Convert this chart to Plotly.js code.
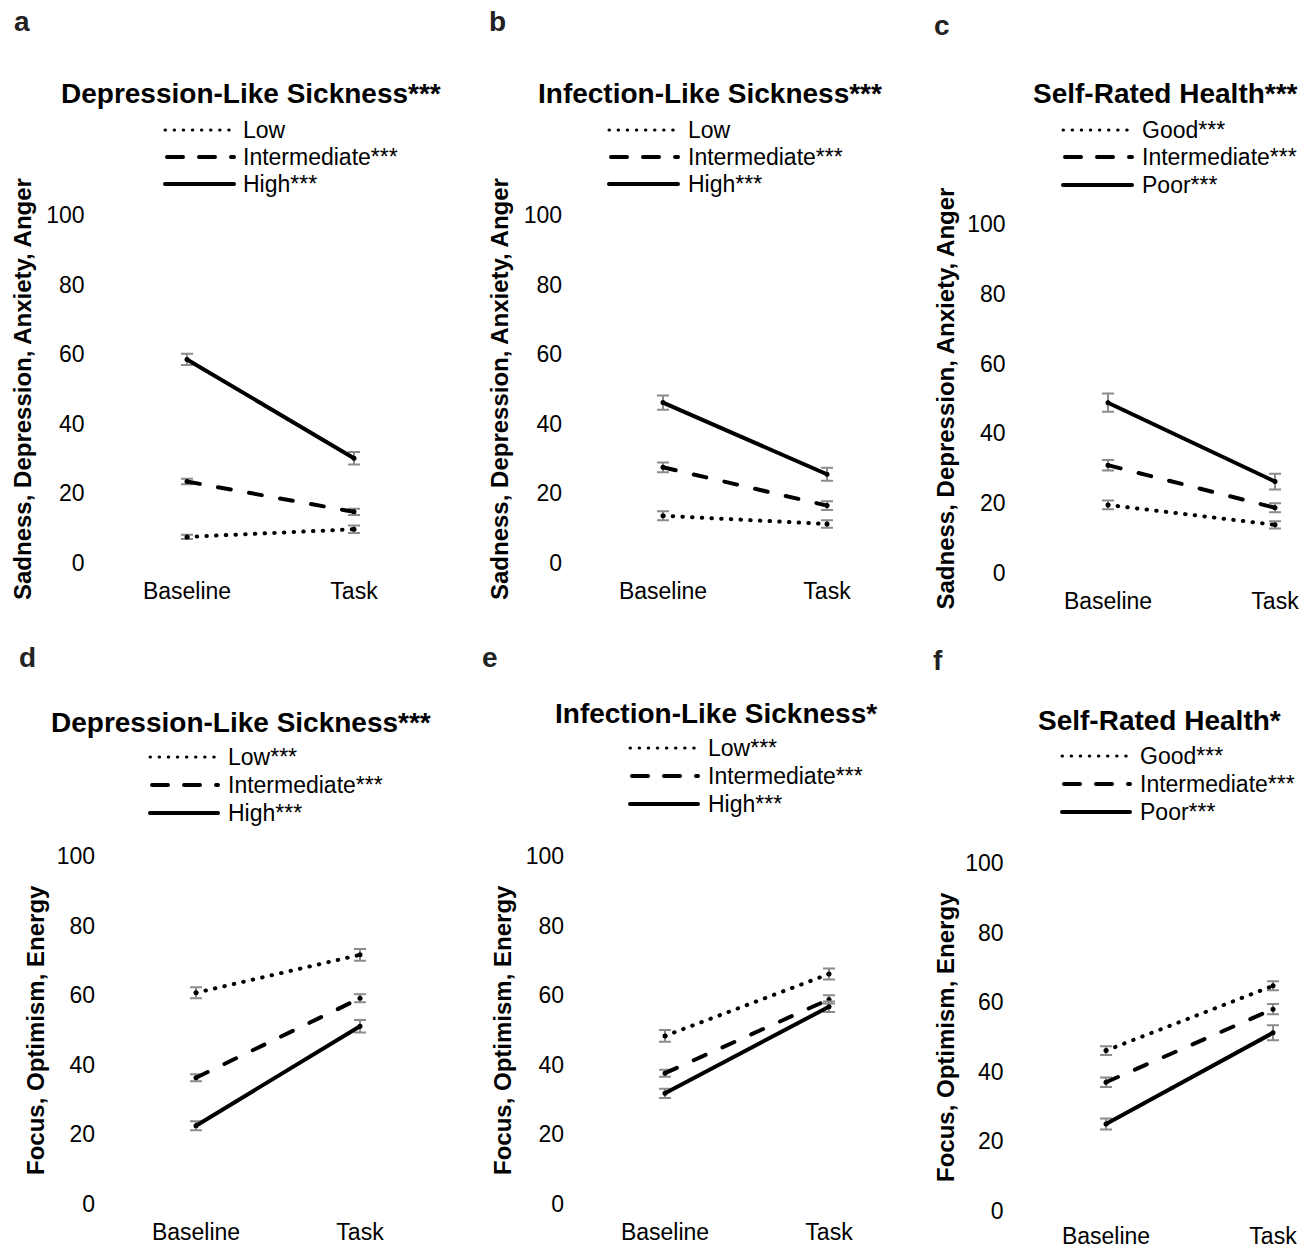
<!DOCTYPE html>
<html><head><meta charset="utf-8">
<script src="https://cdn.plot.ly/plotly-3.0.1.min.js"></script>
<style>
html,body{margin:0;padding:0;background:#fff;}
#chart{width:1315px;height:1250px;}
.js-line, .shapelayer path { stroke-linecap: round !important; }
</style>
</head><body><div id="chart"></div>
<script>
// ---------------- DATA ----------------
const categories = ['Baseline', 'Task'];
const panelLetters = ['a', 'b', 'c', 'd', 'e', 'f'];
const panelTitles = ['Depression-Like Sickness***', 'Infection-Like Sickness***', 'Self-Rated Health***',
                     'Depression-Like Sickness***', 'Infection-Like Sickness*', 'Self-Rated Health*'];
const negTitle = 'Sadness, Depression, Anxiety, Anger';
const posTitle = 'Focus, Optimism, Energy';
const yAxisTitles = [negTitle, negTitle, negTitle, posTitle, posTitle, posTitle];
const yTicks = [0, 20, 40, 60, 80, 100];

const legendA = ['Low', 'Intermediate***', 'High***'];
const legendB = ['Low', 'Intermediate***', 'High***'];
const legendC = ['Good***', 'Intermediate***', 'Poor***'];
const legendD = ['Low***', 'Intermediate***', 'High***'];
const legendE = ['Low***', 'Intermediate***', 'High***'];
const legendF = ['Good***', 'Intermediate***', 'Poor***'];

// values [Baseline, Task]; series order: low/good, intermediate, high/poor
const aLow = [7.5, 9.7],   aLowErr = [0.6, 1.1];
const aInt = [23.4, 14.7], aIntErr = [0.8, 0.9];
const aHigh = [58.5, 30.1], aHighErr = [1.6, 1.8];

const bLow = [13.6, 11.2], bLowErr = [1.3, 1.1];
const bInt = [27.5, 16.5], bIntErr = [1.4, 1.25];
const bHigh = [46.1, 25.5], bHighErr = [2.05, 1.9];

const cGood = [19.5, 13.8], cGoodErr = [1.25, 1.05];
const cInt = [30.9, 18.7],  cIntErr = [1.5, 1.3];
const cPoor = [48.8, 26.2], cPoorErr = [2.6, 2.25];

const dLow = [60.7, 71.6], dLowErr = [1.6, 1.7];
const dInt = [36.3, 59.1], dIntErr = [1.0, 1.15];
const dHigh = [22.5, 51.1], dHighErr = [1.3, 1.8];

const eLow = [48.3, 66.1], eLowErr = [1.7, 1.6];
const eInt = [37.6, 58.8], eIntErr = [1.0, 1.2];
const eHigh = [31.8, 56.7], eHighErr = [1.35, 1.5];

const fGood = [46.1, 64.7], fGoodErr = [1.25, 1.3];
const fInt = [37.0, 58.0],  fIntErr = [1.35, 1.45];
const fPoor = [25.0, 51.2], fPoorErr = [1.6, 2.15];

// ---------------- LAYOUT / STYLE ----------------
const W = 1315, H = 1250;
const FONT = 'Arial, "Liberation Sans", sans-serif';
const panels = [
  {legend: legendA, vals: [aLow, aInt, aHigh], errs: [aLowErr, aIntErr, aHighErr],
   geo: {bx: 187, tx: 354, y0: 563, y100: 215, ytx: 23, xso: 9, title: [251, 93], letter: [22, 22],
         leg: {x0: 165, x1: 234, t: 241, rows: [130, 157, 184]}}},
  {legend: legendB, vals: [bLow, bInt, bHigh], errs: [bLowErr, bIntErr, bHighErr],
   geo: {bx: 663, tx: 827, y0: 563, y100: 215, ytx: 500, xso: 9, title: [710, 93], letter: [497, 22],
         leg: {x0: 609, x1: 678, t: 686, rows: [130, 157, 184]}}},
  {legend: legendC, vals: [cGood, cInt, cPoor], errs: [cGoodErr, cIntErr, cPoorErr],
   geo: {bx: 1108, tx: 1275, y0: 573, y100: 224, ytx: 945, xso: 9, title: [1165, 93], letter: [942, 25],
         leg: {x0: 1063, x1: 1132, t: 1140, rows: [130, 157, 185]}}},
  {legend: legendD, vals: [dLow, dInt, dHigh], errs: [dLowErr, dIntErr, dHighErr],
   geo: {bx: 196, tx: 360, y0: 1204, y100: 856, ytx: 35, xso: 9, title: [241, 722], letter: [27, 657],
         leg: {x0: 150, x1: 218, t: 226, rows: [757, 785, 813]}}},
  {legend: legendE, vals: [eLow, eInt, eHigh], errs: [eLowErr, eIntErr, eHighErr],
   geo: {bx: 665, tx: 829, y0: 1204, y100: 856, ytx: 502, xso: 9, title: [716, 713], letter: [490, 657],
         leg: {x0: 630, x1: 698, t: 706, rows: [748, 776, 804]}}},
  {legend: legendF, vals: [fGood, fInt, fPoor], errs: [fGoodErr, fIntErr, fPoorErr],
   geo: {bx: 1106, tx: 1273, y0: 1211, y100: 863, ytx: 945, xso: 6, title: [1159, 720], letter: [938, 660],
         leg: {x0: 1062, x1: 1130, t: 1138, rows: [756, 784, 812]}}}
];
const lineDash = ['0.5px,9.2px', '13px,18.5px', 'solid'];
const legDash = ['0.5px,8.6px', '16px,16px', 'solid'];
const legWidth = [3, 4, 4];
const legStartPad = [0, 2, 0];

const traces = [];
const layout = {
  width: W, height: H, margin: {l: 0, r: 0, t: 0, b: 0},
  paper_bgcolor: '#fff', plot_bgcolor: '#fff', showlegend: false,
  font: {family: FONT, color: '#000', size: 23},
  annotations: [], shapes: []
};
const px = v => v / W;
const py = v => 1 - v / H;

panels.forEach((p, i) => {
  const g = p.geo;
  const n = i === 0 ? '' : String(i + 1);
  const sp = g.tx - g.bx;
  const left = g.bx - sp / 2;
  const right = Math.min(g.tx + sp / 2, W);
  const unit = (g.y0 - g.y100) / 100;
  const bottom = g.y0 + unit, top = g.y100 - unit;
  layout['xaxis' + n] = {
    domain: [px(left), px(right)], range: [(left - g.bx) / sp, (right - g.bx) / sp],
    type: 'category', categoryarray: categories, anchor: 'y' + n,
    showline: false, showgrid: false, zeroline: false, ticks: '',
    tickfont: {size: 23, family: FONT, color: '#000'}, ticklabelstandoff: g.xso, fixedrange: true
  };
  layout['yaxis' + n] = {
    domain: [py(bottom), py(top)], range: [-1, 101], anchor: 'x' + n,
    tickvals: yTicks, ticktext: yTicks.map(String),
    showline: false, showgrid: false, zeroline: false, ticks: '',
    tickfont: {size: 23, family: FONT, color: '#000'}, ticklabelstandoff: 18, fixedrange: true
  };
  p.vals.forEach((v, s) => {
    traces.push({
      type: 'scatter', mode: 'lines+markers', x: categories, y: v,
      xaxis: 'x' + n, yaxis: 'y' + n, name: p.legend[s], cliponaxis: false,
      line: {color: '#000', width: 4, dash: lineDash[s]},
      marker: {color: '#000', size: 5},
      error_y: {type: 'data', array: p.errs[s], visible: true, color: '#8c8c8c', thickness: 2, width: 6}
    });
    // custom legend entry
    layout.shapes.push({type: 'line', xref: 'paper', yref: 'paper',
      x0: px(g.leg.x0 + legStartPad[s]), x1: px(g.leg.x1), y0: py(g.leg.rows[s]), y1: py(g.leg.rows[s]),
      line: {color: '#000', width: legWidth[s], dash: legDash[s]}});
    layout.annotations.push({xref: 'paper', yref: 'paper', x: px(g.leg.t), y: py(g.leg.rows[s]),
      xanchor: 'left', yanchor: 'middle', showarrow: false, text: p.legend[s],
      font: {size: 23, family: FONT, color: '#000'}});
  });
  layout.annotations.push({xref: 'paper', yref: 'paper', x: px(g.title[0]), y: py(g.title[1]),
    xanchor: 'center', yanchor: 'middle', showarrow: false, text: '<b>' + panelTitles[i] + '</b>',
    font: {size: 28, family: FONT, color: '#000'}});
  layout.annotations.push({xref: 'paper', yref: 'paper', x: px(g.letter[0]), y: py(g.letter[1]),
    xanchor: 'center', yanchor: 'middle', showarrow: false, text: '<b>' + panelLetters[i] + '</b>',
    font: {size: 28, family: FONT, color: '#222'}});
  layout.annotations.push({xref: 'paper', yref: 'paper', x: px(g.ytx), y: py((g.y0 + g.y100) / 2),
    xanchor: 'center', yanchor: 'middle', showarrow: false, textangle: -90,
    text: '<b>' + yAxisTitles[i] + '</b>', font: {size: 24, family: FONT, color: '#000'}});
});

Plotly.newPlot('chart', traces, layout, {displayModeBar: false, staticPlot: true});
</script>
</body></html>
